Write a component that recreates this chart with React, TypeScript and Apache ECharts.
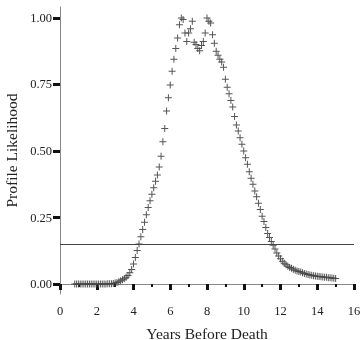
import React, { useEffect, useRef } from "react";
import * as echarts from "echarts";

const xValues = [
  0.8, 0.9, 1.0, 1.1, 1.2, 1.3, 1.4, 1.5, 1.6, 1.7, 1.8, 1.9, 2.0, 2.1, 2.2, 2.3, 2.4, 2.5, 2.6, 2.7,
  2.8, 2.9, 3.0, 3.1, 3.2, 3.3, 3.4, 3.5, 3.6, 3.7, 3.8, 3.9, 4.0, 4.1, 4.2, 4.3, 4.4, 4.5, 4.6, 4.7,
  4.8, 4.9, 5.0, 5.1, 5.2, 5.3, 5.4, 5.5, 5.6, 5.7, 5.8, 5.9, 6.0, 6.1, 6.2, 6.3, 6.4, 6.5, 6.6, 6.7,
  6.8, 6.9, 7.0, 7.1, 7.2, 7.3, 7.4, 7.5, 7.6, 7.7, 7.8, 7.9, 8.0, 8.1, 8.2, 8.3, 8.4, 8.5, 8.6, 8.7,
  8.8, 8.9, 9.0, 9.1, 9.2, 9.3, 9.4, 9.5, 9.6, 9.7, 9.8, 9.9, 10.0, 10.1, 10.2, 10.3, 10.4, 10.5, 10.6, 10.7,
  10.8, 10.9, 11.0, 11.1, 11.2, 11.3, 11.4, 11.5, 11.6, 11.7, 11.8, 11.9, 12.0, 12.1, 12.2, 12.3, 12.4, 12.5, 12.6, 12.7,
  12.8, 12.9, 13.0, 13.1, 13.2, 13.3, 13.4, 13.5, 13.6, 13.7, 13.8, 13.9, 14.0, 14.1, 14.2, 14.3, 14.4, 14.5, 14.6, 14.7,
  14.8, 14.9, 15.0,
];

const likelihood = [
  0.0, 0.0, 0.0, 0.0, 0.0, 0.0, 0.0, 0.0, 0.0, 0.0, 0.0, 0.0, 0.0, 0.0, 0.0, 0.0, 0.0, 0.0, 0.001, 0.001,
  0.001, 0.002, 0.004, 0.006, 0.009, 0.012, 0.016, 0.02, 0.025, 0.032, 0.042, 0.055, 0.075, 0.1, 0.126, 0.15, 0.178, 0.205, 0.232, 0.26,
  0.288, 0.313, 0.337, 0.362, 0.386, 0.41, 0.44, 0.48, 0.535, 0.585, 0.65, 0.7, 0.748, 0.8, 0.845, 0.885, 0.925, 0.975, 1.0, 0.994,
  0.944, 0.912, 0.944, 0.96, 0.988, 0.909, 0.9, 0.885, 0.877, 0.897, 0.912, 0.944, 1.0, 0.988, 0.981, 0.937, 0.905, 0.875, 0.86, 0.845,
  0.835, 0.815, 0.77, 0.74, 0.715, 0.69, 0.665, 0.63, 0.598, 0.575, 0.55, 0.525, 0.5, 0.475, 0.45, 0.422, 0.398, 0.375, 0.35, 0.328,
  0.304, 0.28, 0.255, 0.235, 0.212, 0.19, 0.175, 0.16, 0.146, 0.132, 0.117, 0.105, 0.095, 0.086, 0.078, 0.072, 0.067, 0.062, 0.059, 0.056,
  0.052, 0.049, 0.047, 0.045, 0.042, 0.04, 0.038, 0.036, 0.034, 0.033, 0.031, 0.03, 0.029, 0.028, 0.027, 0.026, 0.025, 0.025, 0.024, 0.024,
  0.023, 0.022, 0.021,
];

const yTickValues = [0, 0.25, 0.5, 0.75, 1.0];
const cutoff = 0.148;

const FONT = "Liberation Serif, Times New Roman, serif";

export default function App() {
  const ref = useRef<HTMLDivElement>(null);

  useEffect(() => {
    if (!ref.current) return;
    const chart = echarts.init(ref.current, undefined, { renderer: "svg" });
    const data = xValues.map((x, i) => [x, likelihood[i]]);
    chart.setOption({
      animation: false,
      grid: { left: 60, right: 6, top: 7, bottom: 46, outerBoundsMode: "none", containLabel: false },
      xAxis: {
        type: "value",
        min: 0,
        max: 16,
        interval: 2,
        name: "Years Before Death",
        nameLocation: "middle",
        nameGap: 31,
        nameTextStyle: { fontFamily: FONT, fontSize: 15.5, color: "#222" },
        axisLine: { show: true, lineStyle: { color: "#888", width: 1 } },
        axisTick: { show: true, length: 6, lineStyle: { color: "#111", width: 3 } },
        minorTick: { show: true, splitNumber: 2, length: 3, lineStyle: { color: "#111", width: 2 } },
        axisLabel: { fontFamily: FONT, fontSize: 12.5, color: "#222", margin: 10 },
        splitLine: { show: false },
        minorSplitLine: { show: false },
      },
      yAxis: {
        type: "value",
        min: -0.0375,
        max: 1.0413,
        name: "Profile Likelihood",
        nameLocation: "middle",
        nameGap: 32,
        nameTextStyle: { fontFamily: FONT, fontSize: 15.5, color: "#222" },
        axisLine: { show: true, lineStyle: { color: "#888", width: 1 } },
        axisTick: { show: true, length: 7, customValues: yTickValues, lineStyle: { color: "#111", width: 3 } },
        axisLabel: {
          fontFamily: FONT,
          fontSize: 12.5,
          color: "#222",
          margin: 8,
          customValues: yTickValues,
          formatter: (v: number) => v.toFixed(2),
        },
        splitLine: { show: false },
      },
      series: [
        {
          type: "scatter",
          data,
          symbol: "path://M3,0H4V3H7V4H4V7H3V4H0V3H3Z",
          symbolSize: 7,
          itemStyle: { color: "#444", opacity: 0.9 },
          markLine: {
            silent: true,
            symbol: "none",
            label: { show: false },
            lineStyle: { color: "#444", width: 1, type: "solid" },
            data: [{ yAxis: cutoff }],
          },
        },
      ],
    });
    return () => chart.dispose();
  }, []);

  return (
    <div
      ref={ref}
      style={{ position: "fixed", left: 0, top: 0, width: 360, height: 340 }}
    />
  );
}
